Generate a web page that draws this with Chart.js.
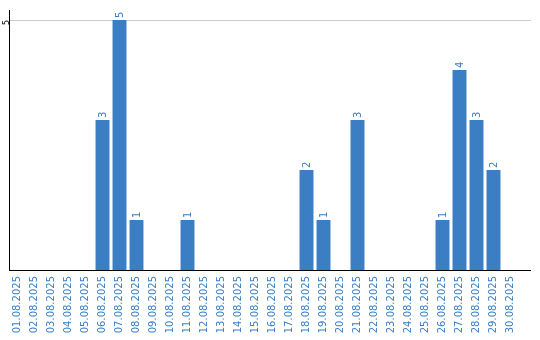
<!DOCTYPE html>
<html>
<head>
<meta charset="utf-8">
<script src="https://cdn.jsdelivr.net/npm/chart.js@4/dist/chart.umd.min.js"></script>
<style>
  html, body { margin: 0; padding: 0; background: #fff; }
  #wrap { width: 540px; height: 340px; }
</style>
</head>
<body>
<div id="wrap"><canvas id="grafica"></canvas></div>
<script>
const fechas = [
  '01.08.2025', '02.08.2025', '03.08.2025', '04.08.2025', '05.08.2025',
  '06.08.2025', '07.08.2025', '08.08.2025', '09.08.2025', '10.08.2025',
  '11.08.2025', '12.08.2025', '13.08.2025', '14.08.2025', '15.08.2025',
  '16.08.2025', '17.08.2025', '18.08.2025', '19.08.2025', '20.08.2025',
  '21.08.2025', '22.08.2025', '23.08.2025', '24.08.2025', '25.08.2025',
  '26.08.2025', '27.08.2025', '28.08.2025', '29.08.2025', '30.08.2025'
];
const valores = [0, 0, 0, 0, 0, 3, 5, 1, 0, 0, 1, 0, 0, 0, 0, 0, 0, 2, 1, 0, 3, 0, 0, 0, 0, 1, 4, 3, 2, 0];
const yTicks = [5];

const azul = '#3b7ec3';

// etiquetas giradas encima de cada barra
const etiquetas = {
  id: 'etiquetas',
  afterDatasetsDraw(chart) {
    const ctx = chart.ctx;
    const meta = chart.getDatasetMeta(0);
    ctx.save();
    ctx.fillStyle = azul;
    ctx.font = '10px "DejaVu Sans"';
    ctx.textAlign = 'left';
    ctx.textBaseline = 'middle';
    meta.data.forEach(function (bar, i) {
      const v = valores[i];
      if (!v) return;
      ctx.save();
      ctx.translate(bar.x + 1, bar.y - 2);
      ctx.rotate(-Math.PI / 2);
      ctx.fillText(String(v), 0, 0);
      ctx.restore();
    });
    ctx.restore();
  }
};

// la linea base y la rejilla siguen un poco a la derecha del area
const prolongar = {
  id: 'prolongar',
  beforeDatasetsDraw(chart) {
    const ctx = chart.ctx;
    const area = chart.chartArea;
    const y = chart.scales.y;
    ctx.save();
    ctx.lineWidth = 1;
    ctx.strokeStyle = '#cccccc';
    yTicks.forEach(function (t) {
      const py = Math.round(y.getPixelForValue(t)) + 0.5;
      ctx.beginPath();
      ctx.moveTo(area.right, py);
      ctx.lineTo(area.right + 12, py);
      ctx.stroke();
    });
    ctx.strokeStyle = '#000';
    const p0 = Math.round(y.getPixelForValue(0)) + 0.5;
    ctx.beginPath();
    ctx.moveTo(area.right, p0);
    ctx.lineTo(area.right + 12, p0);
    ctx.stroke();
    ctx.restore();
  }
};

new Chart(document.getElementById('grafica').getContext('2d'), {
  type: 'bar',
  data: {
    labels: fechas,
    datasets: [{
      data: valores,
      backgroundColor: azul,
      borderWidth: 0,
      categoryPercentage: 1,
      barPercentage: 0.82
    }]
  },
  options: {
    responsive: true,
    maintainAspectRatio: false,
    animation: false,
    layout: { padding: { top: 10, right: 21, left: 0, bottom: 0 } },
    scales: {
      x: {
        grid: { display: false, drawTicks: false },
        border: { color: '#000', width: 1 },
        ticks: {
          autoSkip: false,
          minRotation: 90,
          maxRotation: 90,
          padding: 6,
          color: azul,
          font: { family: 'DejaVu Sans', size: 10 }
        },
        afterFit: function (s) { s.height = 70; }
      },
      y: {
        min: 0,
        max: 5.2,
        afterBuildTicks: function (s) { s.ticks = yTicks.map(v => ({ value: v })); },
        grid: { color: '#cccccc', drawTicks: false },
        border: { color: '#000', width: 1 },
        ticks: {
          color: '#000',
          padding: 2,
          minRotation: 90,
          maxRotation: 90,
          font: { family: 'DejaVu Sans', size: 8 }
        },
        afterFit: function (s) { s.width = 9; }
      }
    },
    plugins: {
      legend: { display: false },
      tooltip: { enabled: false }
    }
  },
  plugins: [etiquetas, prolongar]
});
</script>
</body>
</html>
